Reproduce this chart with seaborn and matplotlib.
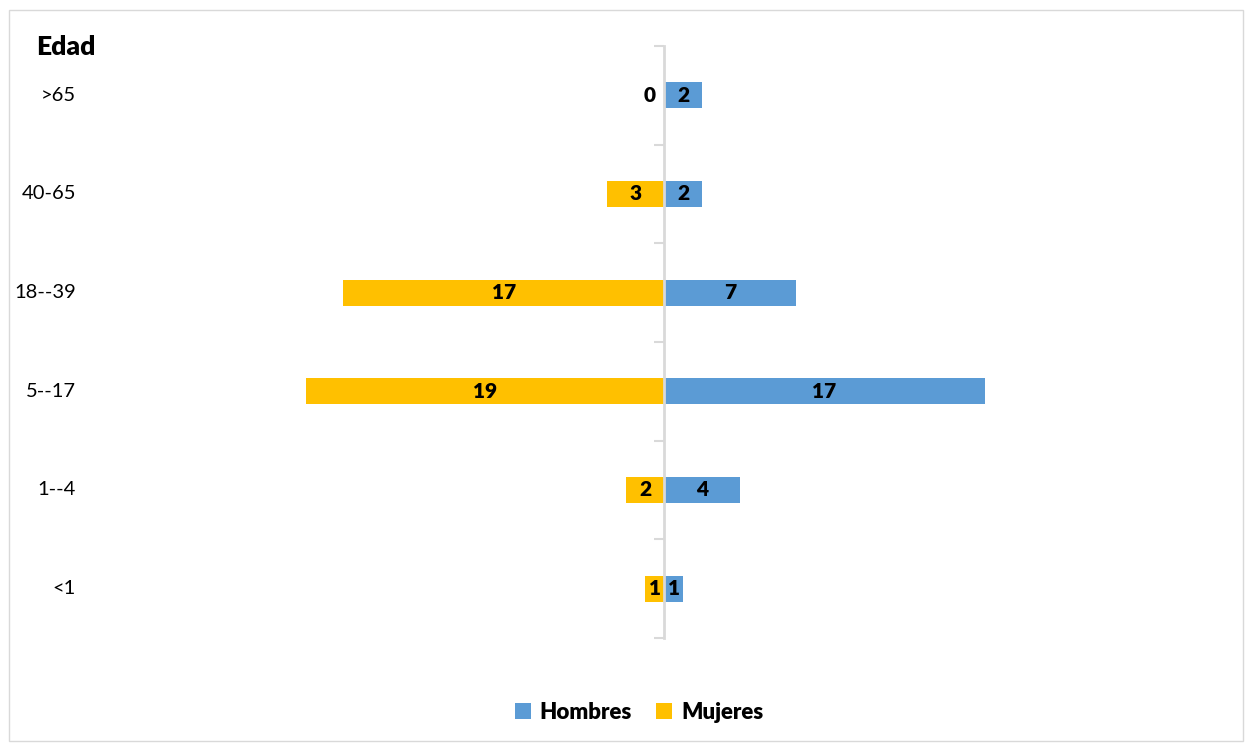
import matplotlib
matplotlib.use("Agg")
import matplotlib.pyplot as plt
import matplotlib.transforms as mtransforms
from matplotlib.patches import Patch, Rectangle
import pandas as pd
import seaborn as sns

# Age groups, top to bottom
edades = [">65", "40-65", "18--39", "5--17", "1--4", "<1"]
hombres = [2, 2, 7, 17, 4, 1]
mujeres = [0, 3, 17, 19, 2, 1]
series = ["Hombres", "Mujeres"]

COL_H = "#5B9BD5"
COL_M = "#FFC000"
GRID = "#D9D9D9"

sns.set_theme(style="white")
plt.rcParams["font.family"] = ["Lato", "DejaVu Sans"]

df = pd.DataFrame({
    "Edad": edades * 2,
    "Sexo": ["Hombres"] * len(edades) + ["Mujeres"] * len(edades),
    "Valor": hombres + [-v for v in mujeres],
})

fig = plt.figure(figsize=(12.46, 7.44), dpi=100)
ax = fig.add_axes([0.0883, 0.1425, 0.8989, 0.7957])

sns.barplot(data=df, x="Valor", y="Edad", hue="Sexo", order=edades,
            hue_order=series, palette=[COL_H, COL_M], dodge=False,
            width=0.265, orient="h", legend=False, linewidth=0,
            saturation=1, ax=ax)

ax.set_xlim(-29.36, 29.99)
ax.set_ylim(len(edades) - 0.5, -0.5)

# central axis with category separators
for s in ["top", "right", "bottom"]:
    ax.spines[s].set_visible(False)
ax.spines["left"].set_position(("data", 0))
ax.spines["left"].set_color(GRID)
ax.spines["left"].set_linewidth(2)
ax.spines["left"].set_zorder(5)
ax.set_xticks([])
ax.set_yticks(range(len(edades)))
ax.set_yticklabels([])
ax.tick_params(axis="y", which="major", length=0)
ax.set_yticks([i - 0.5 for i in range(len(edades) + 1)], minor=True)
ax.tick_params(axis="y", which="minor", length=7, width=1.5, color=GRID,
               direction="out", left=True)
ax.set_xlabel("")
ax.set_ylabel("")

# value labels
for cont, vals in zip(ax.containers, [hombres, mujeres]):
    for bar, v in zip(cont, vals):
        cy = bar.get_y() + bar.get_height() / 2
        if v == 0:
            ax.annotate(str(v), (0, cy), xytext=(-6, 0), textcoords="offset points",
                        ha="right", va="center", fontsize=15, fontweight="heavy",
                        color="black")
        else:
            cx = bar.get_x() + bar.get_width() / 2
            ax.text(cx, cy, str(v), ha="center", va="center", fontsize=15,
                    fontweight="heavy", color="black", zorder=6)

# category labels on the far left
trans = mtransforms.blended_transform_factory(fig.transFigure, ax.transData)
for i, lab in enumerate(edades):
    ax.text(0.061, i, lab, transform=trans, ha="right", va="center",
            fontsize=14.5, color="black")

fig.text(0.0289, 0.937, "Edad", ha="left", va="center", fontsize=19,
         fontweight="heavy", color="black")

handles = [Patch(facecolor=COL_H, edgecolor="none"),
           Patch(facecolor=COL_M, edgecolor="none")]
fig.legend(handles, series, loc="center", bbox_to_anchor=(0.513, 0.043),
           ncol=2, frameon=False, handlelength=0.7, handleheight=0.7,
           handletextpad=0.4, columnspacing=1.1, labelcolor="black",
           prop={"size": 16, "weight": "heavy"})

fig.add_artist(Rectangle((9 / 1246, 3 / 744), 1234 / 1246, 731 / 744,
                         transform=fig.transFigure, fill=False,
                         edgecolor=GRID, linewidth=1))

fig.savefig("out.png", dpi=100, facecolor="white")
